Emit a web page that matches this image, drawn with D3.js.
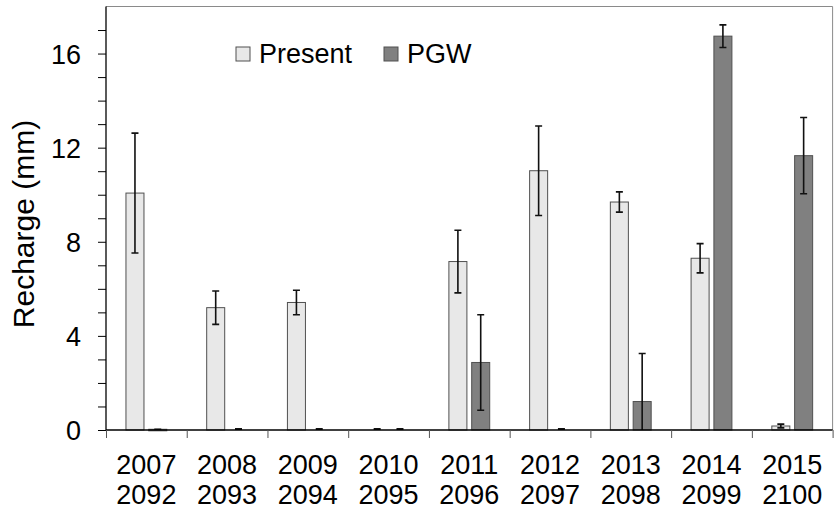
<!DOCTYPE html>
<html>
<head>
<meta charset="utf-8">
<script src="https://cdn.jsdelivr.net/npm/d3@7"></script>
<style>
  html, body { margin: 0; padding: 0; background: #fff; }
  svg { display: block; font-family: "Liberation Sans", Arial, sans-serif; }
</style>
</head>
<body>
<svg id="chart" width="838" height="514"></svg>
<script>
// Groundwater recharge per year: present climate vs. pseudo-global-warming (PGW)
const presentYears = ["2007", "2008", "2009", "2010", "2011", "2012", "2013", "2014", "2015"];
const futureYears  = ["2092", "2093", "2094", "2095", "2096", "2097", "2098", "2099", "2100"];
const seriesNames  = ["Present", "PGW"];
const presentMean  = [10.07, 5.2, 5.42, 0, 7.16, 11.02, 9.69, 7.3, 0.17];
const presentErr   = [2.55, 0.71, 0.52, 0, 1.33, 1.9, 0.43, 0.62, 0.08];
const pgwMean      = [0.03, 0, 0, 0, 2.87, 0, 1.21, 16.74, 11.66];
const pgwErr       = [0, 0, 0, 0, 2.03, 0, 2.04, 0.48, 1.62];
const yTicks       = [0, 4, 8, 12, 16];

const svg = d3.select("#chart");
const plotL = 106, plotR = 832.6, plotT = 6.5, plotB = 430;

const x = d3.scaleBand().domain(presentYears).range([plotL, plotR]).padding(0);
const xs = d3.scaleBand().domain(seriesNames).range([0, x.bandwidth()])
  .paddingInner(0.21).paddingOuter(0.875);
const y = d3.scaleLinear().domain([0, 18]).range([plotB, plotT]);

const fills = { Present: "#e8e8e8", PGW: "#808080" };

const rows = presentYears.map((yr, i) => ({
  yr,
  vals: [
    { s: "Present", v: presentMean[i], e: presentErr[i] },
    { s: "PGW", v: pgwMean[i], e: pgwErr[i] }
  ]
}));

// plot frame (top and right edges)
svg.append("path")
  .attr("d", `M${plotL},${plotT}H${plotR}V${plotB}`)
  .attr("fill", "none").attr("stroke", "#8a8a8a").attr("stroke-width", 1);

// bars
const groups = svg.append("g").selectAll("g").data(rows).join("g")
  .attr("transform", d => `translate(${x(d.yr)},0)`);

groups.selectAll("rect").data(d => d.vals.filter(b => b.v > 0)).join("rect")
  .attr("x", b => xs(b.s))
  .attr("width", xs.bandwidth())
  .attr("y", b => y(b.v))
  .attr("height", b => Math.max(y(0) - y(b.v), 1.5))
  .attr("fill", b => fills[b.s])
  .attr("stroke", "#505050")
  .attr("stroke-width", 1);

// error bars, clipped to the plotted range; zero-width ones show as a short dash
const cap = 3.5;
const eb = groups.selectAll("g.err").data(d => d.vals).join("g").attr("class", "err")
  .attr("transform", b => `translate(${xs(b.s) + xs.bandwidth() / 2},0)`);
eb.append("path")
  .attr("d", b => {
    if (b.v === 0 && b.e === 0) {
      const yy = y(0) - 1;
      return `M${-cap},${yy}H${cap}`;
    }
    const hi = y(b.v + b.e), loV = b.v - b.e, lo = y(Math.max(0, loV));
    let d = `M0,${hi}V${lo}M${-cap},${hi}H${cap}`;
    if (loV >= 0) d += `M${-cap},${lo}H${cap}`;
    return d;
  })
  .attr("fill", "none").attr("stroke", "#111")
  .attr("stroke-width", b => (b.v === 0 && b.e === 0) ? 2 : 1.6);

// y axis
const yAxis = svg.append("g").attr("transform", `translate(${plotL},0)`)
  .call(d3.axisLeft(y).tickValues(d3.range(0, 18, 1)).tickSize(8)
    .tickFormat(v => yTicks.includes(v) ? v : ""));
yAxis.select(".domain").attr("d", `M0,${plotT}V${plotB}`).attr("stroke", "#000").attr("stroke-width", 1.3);
yAxis.selectAll(".tick line").attr("stroke", "#000");
yAxis.selectAll(".tick text").attr("x", -25).attr("dy", "0.36em")
  .attr("font-size", 27).attr("fill", "#000")
  .attr("font-family", "'Liberation Sans', Arial, sans-serif");

// x axis with ticks at group boundaries
const xIdx = d3.scaleLinear().domain([0, presentYears.length]).range([plotL, plotR]);
const xAxis = svg.append("g").attr("transform", `translate(0,${plotB})`)
  .call(d3.axisBottom(xIdx).tickValues(d3.range(0, presentYears.length + 1)).tickSize(8).tickFormat(""));
xAxis.select(".domain").attr("d", `M${plotL},0H${plotR}`).attr("stroke", "#000").attr("stroke-width", 1.3);
xAxis.selectAll(".tick line").attr("stroke", "#555");

// two-line category labels
const lab = svg.append("g").selectAll("text").data(presentYears).join("text")
  .attr("text-anchor", "middle").attr("font-size", 27).attr("fill", "#000")
  .attr("transform", d => `translate(${x(d) + x.bandwidth() / 2},0)`);
lab.append("tspan").attr("x", 0).attr("y", 474).text(d => d);
lab.append("tspan").attr("x", 0).attr("y", 504).text((d, i) => futureYears[i]);

// y axis title
svg.append("text")
  .attr("transform", "translate(34,224) rotate(-90)")
  .attr("text-anchor", "middle").attr("font-size", 30).attr("fill", "#000")
  .text("Recharge (mm)");

// legend
const legendX = [236, 384];
const leg = svg.append("g").selectAll("g").data(seriesNames).join("g")
  .attr("transform", (d, i) => `translate(${legendX[i]},47)`);
leg.append("rect").attr("width", 14).attr("height", 14)
  .attr("fill", d => fills[d]).attr("stroke", "#505050").attr("stroke-width", 1);
leg.append("text").attr("x", 23).attr("y", 15.5).attr("font-size", 27).attr("fill", "#000")
  .text(d => d);
</script>
</body>
</html>
